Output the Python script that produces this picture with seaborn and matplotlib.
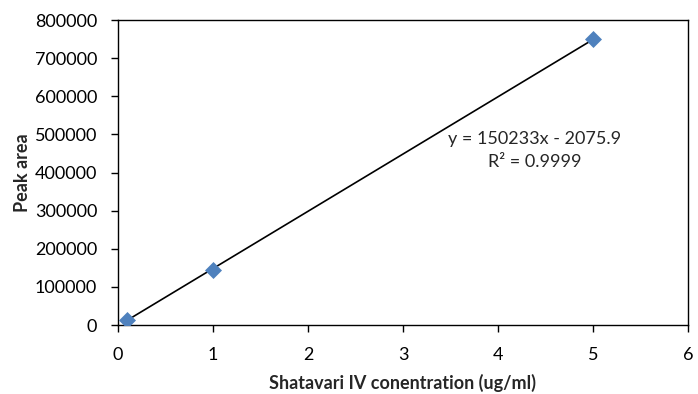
import matplotlib
matplotlib.use("Agg")
import matplotlib.pyplot as plt
import seaborn as sns
import numpy as np
import pandas as pd

# Data
concentration = [0.1, 1, 5]
peak_area = [14000, 145000, 750000]
slope = 150233
intercept = -2075.9
r_squared = 0.9999
x_ticks = [0, 1, 2, 3, 4, 5, 6]
y_ticks = [0, 100000, 200000, 300000, 400000, 500000, 600000, 700000, 800000]

sns.set_theme(style="white")
plt.rcParams['font.family'] = ['Lato', 'DejaVu Sans']

fig = plt.figure(figsize=(6.98, 3.94), dpi=100)
ax = fig.add_axes([0.169, 0.175, 0.8167, 0.774])

df = pd.DataFrame({"x": concentration, "y": peak_area})
line_x = np.array([min(concentration), max(concentration)])
ax.plot(line_x, slope * line_x + intercept, color="black", lw=1.2, zorder=2)
sns.scatterplot(data=df, x="x", y="y", marker="D", s=75, color="#4F81BD",
                edgecolor="#4F81BD", linewidth=0, ax=ax, zorder=3)

ax.set_xlim(0, 6)
ax.set_ylim(0, 800000)
ax.set_xticks(x_ticks)
ax.set_yticks(y_ticks)
ax.set_xticklabels([str(t) for t in x_ticks])
ax.set_yticklabels([str(t) for t in y_ticks])
ax.tick_params(axis="both", direction="out", length=5, width=1, colors="black",
               labelsize=13, bottom=True, left=True)
ax.tick_params(axis="x", pad=11)
ax.tick_params(axis="y", pad=10)
for s in ax.spines.values():
    s.set_color("black")
    s.set_linewidth(1.0)

ax.set_xlabel("Shatavari IV conentration (ug/ml)", fontsize=13, fontweight="bold", labelpad=8)
ax.set_ylabel("Peak area", fontsize=13, fontweight="bold", labelpad=3)

sign = "-" if intercept < 0 else "+"
ax.text(4.39, 487000, f"y = {slope}x {sign} {abs(intercept)}", ha="center", va="center", fontsize=13)
ax.text(4.39, 427000, f"R² = {r_squared}", ha="center", va="center", fontsize=13)

fig.savefig("out.png", dpi=100)
